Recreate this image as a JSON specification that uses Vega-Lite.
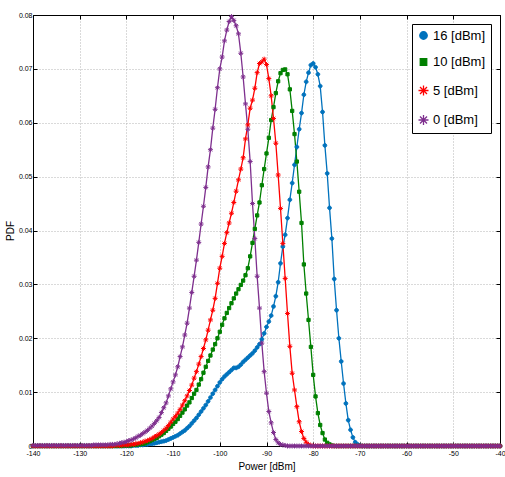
{
"$schema": "https://vega.github.io/schema/vega-lite/v6.json",
"width": 467,
"height": 431,
"autosize": {"type": "none"},
"padding": {"left": 33, "top": 15, "right": 5, "bottom": 31},
"background": "white",
"config": {"view": {"stroke": "black", "strokeWidth": 1}, "font": "Liberation Sans"},
"data": {"values": [
{"s":16,"p":-140,"v":0},{"s":16,"p":-139.5,"v":0},{"s":16,"p":-139,"v":0},{"s":16,"p":-138.5,"v":0},{"s":16,"p":-138,"v":0},{"s":16,"p":-137.5,"v":0},{"s":16,"p":-137,"v":0},{"s":16,"p":-136.5,"v":0},{"s":16,"p":-136,"v":0},{"s":16,"p":-135.5,"v":0},{"s":16,"p":-135,"v":0},{"s":16,"p":-134.5,"v":0},{"s":16,"p":-134,"v":0},{"s":16,"p":-133.5,"v":0},{"s":16,"p":-133,"v":0},{"s":16,"p":-132.5,"v":0},{"s":16,"p":-132,"v":0},{"s":16,"p":-131.5,"v":0},{"s":16,"p":-131,"v":0},{"s":16,"p":-130.5,"v":0},{"s":16,"p":-130,"v":0},{"s":16,"p":-129.5,"v":0},{"s":16,"p":-129,"v":0},{"s":16,"p":-128.5,"v":0},{"s":16,"p":-128,"v":0},{"s":16,"p":-127.5,"v":0},{"s":16,"p":-127,"v":0},{"s":16,"p":-126.5,"v":0},{"s":16,"p":-126,"v":0},{"s":16,"p":-125.5,"v":0},{"s":16,"p":-125,"v":0},{"s":16,"p":-124.5,"v":0},{"s":16,"p":-124,"v":0},{"s":16,"p":-123.5,"v":0},{"s":16,"p":-123,"v":0},{"s":16,"p":-122.5,"v":0},{"s":16,"p":-122,"v":0},{"s":16,"p":-121.5,"v":0},{"s":16,"p":-121,"v":0},{"s":16,"p":-120.5,"v":0},{"s":16,"p":-120,"v":0},{"s":16,"p":-119.5,"v":0},{"s":16,"p":-119,"v":0},
{"s":16,"p":-118.5,"v":0.0001},{"s":16,"p":-118,"v":0.0001},{"s":16,"p":-117.5,"v":0.0001},{"s":16,"p":-117,"v":0.0002},{"s":16,"p":-116.5,"v":0.0002},{"s":16,"p":-116,"v":0.0003},{"s":16,"p":-115.5,"v":0.0003},{"s":16,"p":-115,"v":0.0004},{"s":16,"p":-114.5,"v":0.0004},{"s":16,"p":-114,"v":0.0005},{"s":16,"p":-113.5,"v":0.0006},{"s":16,"p":-113,"v":0.0007},{"s":16,"p":-112.5,"v":0.0008},{"s":16,"p":-112,"v":0.0009},{"s":16,"p":-111.5,"v":0.001},{"s":16,"p":-111,"v":0.0012},{"s":16,"p":-110.5,"v":0.0014},{"s":16,"p":-110,"v":0.0016},{"s":16,"p":-109.5,"v":0.0018},{"s":16,"p":-109,"v":0.002},{"s":16,"p":-108.5,"v":0.0023},{"s":16,"p":-108,"v":0.0026},{"s":16,"p":-107.5,"v":0.0029},{"s":16,"p":-107,"v":0.0033},{"s":16,"p":-106.5,"v":0.0037},{"s":16,"p":-106,"v":0.0042},{"s":16,"p":-105.5,"v":0.0047},{"s":16,"p":-105,"v":0.0052},{"s":16,"p":-104.5,"v":0.0058},{"s":16,"p":-104,"v":0.0064},{"s":16,"p":-103.5,"v":0.007},{"s":16,"p":-103,"v":0.0076},{"s":16,"p":-102.5,"v":0.0083},{"s":16,"p":-102,"v":0.009},{"s":16,"p":-101.5,"v":0.0097},{"s":16,"p":-101,"v":0.0104},{"s":16,"p":-100.5,"v":0.0111},{"s":16,"p":-100,"v":0.0118},{"s":16,"p":-99.5,"v":0.0124},{"s":16,"p":-99,"v":0.0129},{"s":16,"p":-98.5,"v":0.0133},{"s":16,"p":-98,"v":0.0137},{"s":16,"p":-97.5,"v":0.0141},{"s":16,"p":-97,"v":0.0145},{"s":16,"p":-96.5,"v":0.0145},{"s":16,"p":-96,"v":0.0147},{"s":16,"p":-95.5,"v":0.0151},{"s":16,"p":-95,"v":0.0156},{"s":16,"p":-94.5,"v":0.016},{"s":16,"p":-94,"v":0.0164},{"s":16,"p":-93.5,"v":0.0168},{"s":16,"p":-93,"v":0.0172},{"s":16,"p":-92.5,"v":0.0177},{"s":16,"p":-92,"v":0.0183},{"s":16,"p":-91.5,"v":0.0189},{"s":16,"p":-91,"v":0.0198},{"s":16,"p":-90.5,"v":0.0209},{"s":16,"p":-90,"v":0.0221},{"s":16,"p":-89.5,"v":0.0231},{"s":16,"p":-89,"v":0.0242},{"s":16,"p":-88.5,"v":0.0259},{"s":16,"p":-88,"v":0.0278},{"s":16,"p":-87.5,"v":0.0304},{"s":16,"p":-87,"v":0.0339},{"s":16,"p":-86.5,"v":0.037},{"s":16,"p":-86,"v":0.0392},{"s":16,"p":-85.5,"v":0.0423},{"s":16,"p":-85,"v":0.0457},{"s":16,"p":-84.5,"v":0.0488},{"s":16,"p":-84,"v":0.0522},{"s":16,"p":-83.5,"v":0.0555},{"s":16,"p":-83,"v":0.0588},{"s":16,"p":-82.5,"v":0.0618},{"s":16,"p":-82,"v":0.0652},{"s":16,"p":-81.5,"v":0.0676},{"s":16,"p":-81,"v":0.0693},{"s":16,"p":-80.5,"v":0.0707},{"s":16,"p":-80,"v":0.071},{"s":16,"p":-79.5,"v":0.0703},{"s":16,"p":-79,"v":0.069},{"s":16,"p":-78.5,"v":0.0668},{"s":16,"p":-78,"v":0.062},{"s":16,"p":-77.5,"v":0.0558},{"s":16,"p":-77,"v":0.0506},{"s":16,"p":-76.5,"v":0.0442},{"s":16,"p":-76,"v":0.0385},{"s":16,"p":-75.5,"v":0.031},{"s":16,"p":-75,"v":0.0252},{"s":16,"p":-74.5,"v":0.02},{"s":16,"p":-74,"v":0.0157},{"s":16,"p":-73.5,"v":0.0116},{"s":16,"p":-73,"v":0.0079},{"s":16,"p":-72.5,"v":0.0048},{"s":16,"p":-72,"v":0.003},{"s":16,"p":-71.5,"v":0.0016},{"s":16,"p":-71,"v":0.0007},{"s":16,"p":-70.5,"v":0.0003},{"s":16,"p":-70,"v":0.0001},
{"s":16,"p":-69.5,"v":0},{"s":16,"p":-69,"v":0},{"s":16,"p":-68.5,"v":0},{"s":16,"p":-68,"v":0},{"s":16,"p":-67.5,"v":0},{"s":16,"p":-67,"v":0},{"s":16,"p":-66.5,"v":0},{"s":16,"p":-66,"v":0},{"s":16,"p":-65.5,"v":0},{"s":16,"p":-65,"v":0},{"s":16,"p":-64.5,"v":0},{"s":16,"p":-64,"v":0},{"s":16,"p":-63.5,"v":0},{"s":16,"p":-63,"v":0},{"s":16,"p":-62.5,"v":0},{"s":16,"p":-62,"v":0},{"s":16,"p":-61.5,"v":0},{"s":16,"p":-61,"v":0},{"s":16,"p":-60.5,"v":0},{"s":16,"p":-60,"v":0},{"s":16,"p":-59.5,"v":0},{"s":16,"p":-59,"v":0},{"s":16,"p":-58.5,"v":0},{"s":16,"p":-58,"v":0},{"s":16,"p":-57.5,"v":0},{"s":16,"p":-57,"v":0},{"s":16,"p":-56.5,"v":0},{"s":16,"p":-56,"v":0},{"s":16,"p":-55.5,"v":0},{"s":16,"p":-55,"v":0},{"s":16,"p":-54.5,"v":0},{"s":16,"p":-54,"v":0},{"s":16,"p":-53.5,"v":0},{"s":16,"p":-53,"v":0},{"s":16,"p":-52.5,"v":0},{"s":16,"p":-52,"v":0},{"s":16,"p":-51.5,"v":0},{"s":16,"p":-51,"v":0},{"s":16,"p":-50.5,"v":0},{"s":16,"p":-50,"v":0},{"s":16,"p":-49.5,"v":0},{"s":16,"p":-49,"v":0},{"s":16,"p":-48.5,"v":0},{"s":16,"p":-48,"v":0},{"s":16,"p":-47.5,"v":0},{"s":16,"p":-47,"v":0},{"s":16,"p":-46.5,"v":0},{"s":16,"p":-46,"v":0},{"s":16,"p":-45.5,"v":0},{"s":16,"p":-45,"v":0},{"s":16,"p":-44.5,"v":0},{"s":16,"p":-44,"v":0},{"s":16,"p":-43.5,"v":0},{"s":16,"p":-43,"v":0},{"s":16,"p":-42.5,"v":0},{"s":16,"p":-42,"v":0},{"s":16,"p":-41.5,"v":0},{"s":16,"p":-41,"v":0},{"s":16,"p":-40.5,"v":0},{"s":16,"p":-40,"v":0},
{"s":10,"p":-140,"v":0},{"s":10,"p":-139.5,"v":0},{"s":10,"p":-139,"v":0},{"s":10,"p":-138.5,"v":0},{"s":10,"p":-138,"v":0},{"s":10,"p":-137.5,"v":0},{"s":10,"p":-137,"v":0},{"s":10,"p":-136.5,"v":0},{"s":10,"p":-136,"v":0},{"s":10,"p":-135.5,"v":0},{"s":10,"p":-135,"v":0},{"s":10,"p":-134.5,"v":0},{"s":10,"p":-134,"v":0},{"s":10,"p":-133.5,"v":0},{"s":10,"p":-133,"v":0},{"s":10,"p":-132.5,"v":0},{"s":10,"p":-132,"v":0},{"s":10,"p":-131.5,"v":0},{"s":10,"p":-131,"v":0},{"s":10,"p":-130.5,"v":0},{"s":10,"p":-130,"v":0},{"s":10,"p":-129.5,"v":0},{"s":10,"p":-129,"v":0},{"s":10,"p":-128.5,"v":0},{"s":10,"p":-128,"v":0},{"s":10,"p":-127.5,"v":0},{"s":10,"p":-127,"v":0},{"s":10,"p":-126.5,"v":0},{"s":10,"p":-126,"v":0},{"s":10,"p":-125.5,"v":0},{"s":10,"p":-125,"v":0},{"s":10,"p":-124.5,"v":0},{"s":10,"p":-124,"v":0},{"s":10,"p":-123.5,"v":0},{"s":10,"p":-123,"v":0},{"s":10,"p":-122.5,"v":0},{"s":10,"p":-122,"v":0},{"s":10,"p":-121.5,"v":0},{"s":10,"p":-121,"v":0},
{"s":10,"p":-120.5,"v":0.0001},{"s":10,"p":-120,"v":0.0001},{"s":10,"p":-119.5,"v":0.0001},{"s":10,"p":-119,"v":0.0001},{"s":10,"p":-118.5,"v":0.0002},{"s":10,"p":-118,"v":0.0002},{"s":10,"p":-117.5,"v":0.0003},{"s":10,"p":-117,"v":0.0003},{"s":10,"p":-116.5,"v":0.0004},{"s":10,"p":-116,"v":0.0005},{"s":10,"p":-115.5,"v":0.0007},{"s":10,"p":-115,"v":0.0009},{"s":10,"p":-114.5,"v":0.0011},{"s":10,"p":-114,"v":0.0013},{"s":10,"p":-113.5,"v":0.0015},{"s":10,"p":-113,"v":0.0018},{"s":10,"p":-112.5,"v":0.0021},{"s":10,"p":-112,"v":0.0024},{"s":10,"p":-111.5,"v":0.0028},{"s":10,"p":-111,"v":0.0032},{"s":10,"p":-110.5,"v":0.0036},{"s":10,"p":-110,"v":0.0041},{"s":10,"p":-109.5,"v":0.0045},{"s":10,"p":-109,"v":0.005},{"s":10,"p":-108.5,"v":0.0056},{"s":10,"p":-108,"v":0.0062},{"s":10,"p":-107.5,"v":0.0068},{"s":10,"p":-107,"v":0.0075},{"s":10,"p":-106.5,"v":0.0081},{"s":10,"p":-106,"v":0.0089},{"s":10,"p":-105.5,"v":0.0097},{"s":10,"p":-105,"v":0.0104},{"s":10,"p":-104.5,"v":0.0114},{"s":10,"p":-104,"v":0.0124},{"s":10,"p":-103.5,"v":0.0136},{"s":10,"p":-103,"v":0.0147},{"s":10,"p":-102.5,"v":0.0158},{"s":10,"p":-102,"v":0.0168},{"s":10,"p":-101.5,"v":0.0179},{"s":10,"p":-101,"v":0.0189},{"s":10,"p":-100.5,"v":0.02},{"s":10,"p":-100,"v":0.0212},{"s":10,"p":-99.5,"v":0.0225},{"s":10,"p":-99,"v":0.0237},{"s":10,"p":-98.5,"v":0.0247},{"s":10,"p":-98,"v":0.0256},{"s":10,"p":-97.5,"v":0.0265},{"s":10,"p":-97,"v":0.0274},{"s":10,"p":-96.5,"v":0.0283},{"s":10,"p":-96,"v":0.0291},{"s":10,"p":-95.5,"v":0.0299},{"s":10,"p":-95,"v":0.0307},{"s":10,"p":-94.5,"v":0.0317},{"s":10,"p":-94,"v":0.033},{"s":10,"p":-93.5,"v":0.0352},{"s":10,"p":-93,"v":0.0377},{"s":10,"p":-92.5,"v":0.0403},{"s":10,"p":-92,"v":0.0428},{"s":10,"p":-91.5,"v":0.0452},{"s":10,"p":-91,"v":0.0484},{"s":10,"p":-90.5,"v":0.0514},{"s":10,"p":-90,"v":0.0543},{"s":10,"p":-89.5,"v":0.0572},{"s":10,"p":-89,"v":0.0605},{"s":10,"p":-88.5,"v":0.0629},{"s":10,"p":-88,"v":0.0655},{"s":10,"p":-87.5,"v":0.0677},{"s":10,"p":-87,"v":0.0692},{"s":10,"p":-86.5,"v":0.0698},{"s":10,"p":-86,"v":0.0699},{"s":10,"p":-85.5,"v":0.069},{"s":10,"p":-85,"v":0.0662},{"s":10,"p":-84.5,"v":0.0622},{"s":10,"p":-84,"v":0.0579},{"s":10,"p":-83.5,"v":0.0528},{"s":10,"p":-83,"v":0.0472},{"s":10,"p":-82.5,"v":0.0414},{"s":10,"p":-82,"v":0.0337},{"s":10,"p":-81.5,"v":0.0283},{"s":10,"p":-81,"v":0.0234},{"s":10,"p":-80.5,"v":0.0184},{"s":10,"p":-80,"v":0.0132},{"s":10,"p":-79.5,"v":0.0092},{"s":10,"p":-79,"v":0.0061},{"s":10,"p":-78.5,"v":0.0039},{"s":10,"p":-78,"v":0.0024},{"s":10,"p":-77.5,"v":0.0012},{"s":10,"p":-77,"v":0.0006},{"s":10,"p":-76.5,"v":0.0003},{"s":10,"p":-76,"v":0.0001},
{"s":10,"p":-75.5,"v":0},{"s":10,"p":-75,"v":0},{"s":10,"p":-74.5,"v":0},{"s":10,"p":-74,"v":0},{"s":10,"p":-73.5,"v":0},{"s":10,"p":-73,"v":0},{"s":10,"p":-72.5,"v":0},{"s":10,"p":-72,"v":0},{"s":10,"p":-71.5,"v":0},{"s":10,"p":-71,"v":0},{"s":10,"p":-70.5,"v":0},{"s":10,"p":-70,"v":0},{"s":10,"p":-69.5,"v":0},{"s":10,"p":-69,"v":0},{"s":10,"p":-68.5,"v":0},{"s":10,"p":-68,"v":0},{"s":10,"p":-67.5,"v":0},{"s":10,"p":-67,"v":0},{"s":10,"p":-66.5,"v":0},{"s":10,"p":-66,"v":0},{"s":10,"p":-65.5,"v":0},{"s":10,"p":-65,"v":0},{"s":10,"p":-64.5,"v":0},{"s":10,"p":-64,"v":0},{"s":10,"p":-63.5,"v":0},{"s":10,"p":-63,"v":0},{"s":10,"p":-62.5,"v":0},{"s":10,"p":-62,"v":0},{"s":10,"p":-61.5,"v":0},{"s":10,"p":-61,"v":0},{"s":10,"p":-60.5,"v":0},{"s":10,"p":-60,"v":0},{"s":10,"p":-59.5,"v":0},{"s":10,"p":-59,"v":0},{"s":10,"p":-58.5,"v":0},{"s":10,"p":-58,"v":0},{"s":10,"p":-57.5,"v":0},{"s":10,"p":-57,"v":0},{"s":10,"p":-56.5,"v":0},{"s":10,"p":-56,"v":0},{"s":10,"p":-55.5,"v":0},{"s":10,"p":-55,"v":0},{"s":10,"p":-54.5,"v":0},{"s":10,"p":-54,"v":0},{"s":10,"p":-53.5,"v":0},{"s":10,"p":-53,"v":0},{"s":10,"p":-52.5,"v":0},{"s":10,"p":-52,"v":0},{"s":10,"p":-51.5,"v":0},{"s":10,"p":-51,"v":0},{"s":10,"p":-50.5,"v":0},{"s":10,"p":-50,"v":0},{"s":10,"p":-49.5,"v":0},{"s":10,"p":-49,"v":0},{"s":10,"p":-48.5,"v":0},{"s":10,"p":-48,"v":0},{"s":10,"p":-47.5,"v":0},{"s":10,"p":-47,"v":0},{"s":10,"p":-46.5,"v":0},{"s":10,"p":-46,"v":0},{"s":10,"p":-45.5,"v":0},{"s":10,"p":-45,"v":0},{"s":10,"p":-44.5,"v":0},{"s":10,"p":-44,"v":0},{"s":10,"p":-43.5,"v":0},{"s":10,"p":-43,"v":0},{"s":10,"p":-42.5,"v":0},{"s":10,"p":-42,"v":0},{"s":10,"p":-41.5,"v":0},{"s":10,"p":-41,"v":0},{"s":10,"p":-40.5,"v":0},{"s":10,"p":-40,"v":0},
{"s":5,"p":-140,"v":0},{"s":5,"p":-139.5,"v":0},{"s":5,"p":-139,"v":0},{"s":5,"p":-138.5,"v":0},{"s":5,"p":-138,"v":0},{"s":5,"p":-137.5,"v":0},{"s":5,"p":-137,"v":0},{"s":5,"p":-136.5,"v":0},{"s":5,"p":-136,"v":0},{"s":5,"p":-135.5,"v":0},{"s":5,"p":-135,"v":0},{"s":5,"p":-134.5,"v":0},{"s":5,"p":-134,"v":0},{"s":5,"p":-133.5,"v":0},{"s":5,"p":-133,"v":0},{"s":5,"p":-132.5,"v":0},{"s":5,"p":-132,"v":0},{"s":5,"p":-131.5,"v":0},{"s":5,"p":-131,"v":0},{"s":5,"p":-130.5,"v":0},{"s":5,"p":-130,"v":0},{"s":5,"p":-129.5,"v":0},{"s":5,"p":-129,"v":0},{"s":5,"p":-128.5,"v":0},{"s":5,"p":-128,"v":0},{"s":5,"p":-127.5,"v":0},{"s":5,"p":-127,"v":0},{"s":5,"p":-126.5,"v":0},{"s":5,"p":-126,"v":0},{"s":5,"p":-125.5,"v":0},{"s":5,"p":-125,"v":0},{"s":5,"p":-124.5,"v":0},{"s":5,"p":-124,"v":0},{"s":5,"p":-123.5,"v":0},{"s":5,"p":-123,"v":0},
{"s":5,"p":-122.5,"v":0.0001},{"s":5,"p":-122,"v":0.0001},{"s":5,"p":-121.5,"v":0.0001},{"s":5,"p":-121,"v":0.0001},{"s":5,"p":-120.5,"v":0.0002},{"s":5,"p":-120,"v":0.0002},{"s":5,"p":-119.5,"v":0.0002},{"s":5,"p":-119,"v":0.0003},{"s":5,"p":-118.5,"v":0.0003},{"s":5,"p":-118,"v":0.0004},{"s":5,"p":-117.5,"v":0.0005},{"s":5,"p":-117,"v":0.0006},{"s":5,"p":-116.5,"v":0.0007},{"s":5,"p":-116,"v":0.0009},{"s":5,"p":-115.5,"v":0.001},{"s":5,"p":-115,"v":0.0012},{"s":5,"p":-114.5,"v":0.0014},{"s":5,"p":-114,"v":0.0017},{"s":5,"p":-113.5,"v":0.0019},{"s":5,"p":-113,"v":0.0022},{"s":5,"p":-112.5,"v":0.0025},{"s":5,"p":-112,"v":0.0029},{"s":5,"p":-111.5,"v":0.0033},{"s":5,"p":-111,"v":0.0038},{"s":5,"p":-110.5,"v":0.0044},{"s":5,"p":-110,"v":0.005},{"s":5,"p":-109.5,"v":0.0055},{"s":5,"p":-109,"v":0.0061},{"s":5,"p":-108.5,"v":0.0068},{"s":5,"p":-108,"v":0.0076},{"s":5,"p":-107.5,"v":0.0084},{"s":5,"p":-107,"v":0.0093},{"s":5,"p":-106.5,"v":0.0103},{"s":5,"p":-106,"v":0.0113},{"s":5,"p":-105.5,"v":0.0126},{"s":5,"p":-105,"v":0.0138},{"s":5,"p":-104.5,"v":0.0152},{"s":5,"p":-104,"v":0.0166},{"s":5,"p":-103.5,"v":0.0181},{"s":5,"p":-103,"v":0.0197},{"s":5,"p":-102.5,"v":0.0215},{"s":5,"p":-102,"v":0.0234},{"s":5,"p":-101.5,"v":0.0252},{"s":5,"p":-101,"v":0.0274},{"s":5,"p":-100.5,"v":0.0302},{"s":5,"p":-100,"v":0.033},{"s":5,"p":-99.5,"v":0.0352},{"s":5,"p":-99,"v":0.0376},{"s":5,"p":-98.5,"v":0.0396},{"s":5,"p":-98,"v":0.0414},{"s":5,"p":-97.5,"v":0.0432},{"s":5,"p":-97,"v":0.0452},{"s":5,"p":-96.5,"v":0.0473},{"s":5,"p":-96,"v":0.0494},{"s":5,"p":-95.5,"v":0.0514},{"s":5,"p":-95,"v":0.0535},{"s":5,"p":-94.5,"v":0.057},{"s":5,"p":-94,"v":0.0596},{"s":5,"p":-93.5,"v":0.0627},{"s":5,"p":-93,"v":0.0642},{"s":5,"p":-92.5,"v":0.0664},{"s":5,"p":-92,"v":0.0693},{"s":5,"p":-91.5,"v":0.071},{"s":5,"p":-91,"v":0.0713},{"s":5,"p":-90.5,"v":0.0718},{"s":5,"p":-90,"v":0.0708},{"s":5,"p":-89.5,"v":0.0682},{"s":5,"p":-89,"v":0.065},{"s":5,"p":-88.5,"v":0.0608},{"s":5,"p":-88,"v":0.0562},{"s":5,"p":-87.5,"v":0.0503},{"s":5,"p":-87,"v":0.0441},{"s":5,"p":-86.5,"v":0.0376},{"s":5,"p":-86,"v":0.0311},{"s":5,"p":-85.5,"v":0.0246},{"s":5,"p":-85,"v":0.0185},{"s":5,"p":-84.5,"v":0.0135},{"s":5,"p":-84,"v":0.0104},{"s":5,"p":-83.5,"v":0.0073},{"s":5,"p":-83,"v":0.0045},{"s":5,"p":-82.5,"v":0.0027},{"s":5,"p":-82,"v":0.0014},{"s":5,"p":-81.5,"v":0.0007},{"s":5,"p":-81,"v":0.0003},{"s":5,"p":-80.5,"v":0.0001},
{"s":5,"p":-80,"v":0},{"s":5,"p":-79.5,"v":0},{"s":5,"p":-79,"v":0},{"s":5,"p":-78.5,"v":0},{"s":5,"p":-78,"v":0},{"s":5,"p":-77.5,"v":0},{"s":5,"p":-77,"v":0},{"s":5,"p":-76.5,"v":0},{"s":5,"p":-76,"v":0},{"s":5,"p":-75.5,"v":0},{"s":5,"p":-75,"v":0},{"s":5,"p":-74.5,"v":0},{"s":5,"p":-74,"v":0},{"s":5,"p":-73.5,"v":0},{"s":5,"p":-73,"v":0},{"s":5,"p":-72.5,"v":0},{"s":5,"p":-72,"v":0},{"s":5,"p":-71.5,"v":0},{"s":5,"p":-71,"v":0},{"s":5,"p":-70.5,"v":0},{"s":5,"p":-70,"v":0},{"s":5,"p":-69.5,"v":0},{"s":5,"p":-69,"v":0},{"s":5,"p":-68.5,"v":0},{"s":5,"p":-68,"v":0},{"s":5,"p":-67.5,"v":0},{"s":5,"p":-67,"v":0},{"s":5,"p":-66.5,"v":0},{"s":5,"p":-66,"v":0},{"s":5,"p":-65.5,"v":0},{"s":5,"p":-65,"v":0},{"s":5,"p":-64.5,"v":0},{"s":5,"p":-64,"v":0},{"s":5,"p":-63.5,"v":0},{"s":5,"p":-63,"v":0},{"s":5,"p":-62.5,"v":0},{"s":5,"p":-62,"v":0},{"s":5,"p":-61.5,"v":0},{"s":5,"p":-61,"v":0},{"s":5,"p":-60.5,"v":0},{"s":5,"p":-60,"v":0},{"s":5,"p":-59.5,"v":0},{"s":5,"p":-59,"v":0},{"s":5,"p":-58.5,"v":0},{"s":5,"p":-58,"v":0},{"s":5,"p":-57.5,"v":0},{"s":5,"p":-57,"v":0},{"s":5,"p":-56.5,"v":0},{"s":5,"p":-56,"v":0},{"s":5,"p":-55.5,"v":0},{"s":5,"p":-55,"v":0},{"s":5,"p":-54.5,"v":0},{"s":5,"p":-54,"v":0},{"s":5,"p":-53.5,"v":0},{"s":5,"p":-53,"v":0},{"s":5,"p":-52.5,"v":0},{"s":5,"p":-52,"v":0},{"s":5,"p":-51.5,"v":0},{"s":5,"p":-51,"v":0},{"s":5,"p":-50.5,"v":0},{"s":5,"p":-50,"v":0},{"s":5,"p":-49.5,"v":0},{"s":5,"p":-49,"v":0},{"s":5,"p":-48.5,"v":0},{"s":5,"p":-48,"v":0},{"s":5,"p":-47.5,"v":0},{"s":5,"p":-47,"v":0},{"s":5,"p":-46.5,"v":0},{"s":5,"p":-46,"v":0},{"s":5,"p":-45.5,"v":0},{"s":5,"p":-45,"v":0},{"s":5,"p":-44.5,"v":0},{"s":5,"p":-44,"v":0},{"s":5,"p":-43.5,"v":0},{"s":5,"p":-43,"v":0},{"s":5,"p":-42.5,"v":0},{"s":5,"p":-42,"v":0},{"s":5,"p":-41.5,"v":0},{"s":5,"p":-41,"v":0},{"s":5,"p":-40.5,"v":0},{"s":5,"p":-40,"v":0},
{"s":0,"p":-140,"v":0.0001},{"s":0,"p":-139.5,"v":0.0001},{"s":0,"p":-139,"v":0.0001},{"s":0,"p":-138.5,"v":0.0001},{"s":0,"p":-138,"v":0.0001},{"s":0,"p":-137.5,"v":0.0001},{"s":0,"p":-137,"v":0.0001},{"s":0,"p":-136.5,"v":0.0001},{"s":0,"p":-136,"v":0.0001},{"s":0,"p":-135.5,"v":0.0001},{"s":0,"p":-135,"v":0.0001},{"s":0,"p":-134.5,"v":0.0001},{"s":0,"p":-134,"v":0.0001},{"s":0,"p":-133.5,"v":0.0001},{"s":0,"p":-133,"v":0.0001},{"s":0,"p":-132.5,"v":0.0001},{"s":0,"p":-132,"v":0.0001},{"s":0,"p":-131.5,"v":0.0001},{"s":0,"p":-131,"v":0.0001},{"s":0,"p":-130.5,"v":0.0001},{"s":0,"p":-130,"v":0.0001},{"s":0,"p":-129.5,"v":0.0001},{"s":0,"p":-129,"v":0.0001},{"s":0,"p":-128.5,"v":0.0001},{"s":0,"p":-128,"v":0.0001},{"s":0,"p":-127.5,"v":0.0001},{"s":0,"p":-127,"v":0.0002},{"s":0,"p":-126.5,"v":0.0002},{"s":0,"p":-126,"v":0.0002},{"s":0,"p":-125.5,"v":0.0002},{"s":0,"p":-125,"v":0.0002},{"s":0,"p":-124.5,"v":0.0002},{"s":0,"p":-124,"v":0.0002},{"s":0,"p":-123.5,"v":0.0003},{"s":0,"p":-123,"v":0.0003},{"s":0,"p":-122.5,"v":0.0003},{"s":0,"p":-122,"v":0.0004},{"s":0,"p":-121.5,"v":0.0005},{"s":0,"p":-121,"v":0.0006},{"s":0,"p":-120.5,"v":0.0007},{"s":0,"p":-120,"v":0.0008},{"s":0,"p":-119.5,"v":0.001},{"s":0,"p":-119,"v":0.0011},{"s":0,"p":-118.5,"v":0.0013},{"s":0,"p":-118,"v":0.0015},{"s":0,"p":-117.5,"v":0.0018},{"s":0,"p":-117,"v":0.002},{"s":0,"p":-116.5,"v":0.0023},{"s":0,"p":-116,"v":0.0026},{"s":0,"p":-115.5,"v":0.0029},{"s":0,"p":-115,"v":0.0033},{"s":0,"p":-114.5,"v":0.0037},{"s":0,"p":-114,"v":0.0042},{"s":0,"p":-113.5,"v":0.0047},{"s":0,"p":-113,"v":0.0053},{"s":0,"p":-112.5,"v":0.0062},{"s":0,"p":-112,"v":0.0071},{"s":0,"p":-111.5,"v":0.008},{"s":0,"p":-111,"v":0.0093},{"s":0,"p":-110.5,"v":0.0106},{"s":0,"p":-110,"v":0.0119},{"s":0,"p":-109.5,"v":0.0132},{"s":0,"p":-109,"v":0.0147},{"s":0,"p":-108.5,"v":0.0166},{"s":0,"p":-108,"v":0.0184},{"s":0,"p":-107.5,"v":0.0206},{"s":0,"p":-107,"v":0.0228},{"s":0,"p":-106.5,"v":0.0256},{"s":0,"p":-106,"v":0.0285},{"s":0,"p":-105.5,"v":0.0315},{"s":0,"p":-105,"v":0.0345},{"s":0,"p":-104.5,"v":0.0378},{"s":0,"p":-104,"v":0.0412},{"s":0,"p":-103.5,"v":0.0445},{"s":0,"p":-103,"v":0.048},{"s":0,"p":-102.5,"v":0.0518},{"s":0,"p":-102,"v":0.055},{"s":0,"p":-101.5,"v":0.059},{"s":0,"p":-101,"v":0.0625},{"s":0,"p":-100.5,"v":0.0665},{"s":0,"p":-100,"v":0.07},{"s":0,"p":-99.5,"v":0.0722},{"s":0,"p":-99,"v":0.0752},{"s":0,"p":-98.5,"v":0.0772},{"s":0,"p":-98,"v":0.0788},{"s":0,"p":-97.5,"v":0.0797},{"s":0,"p":-97,"v":0.079},{"s":0,"p":-96.5,"v":0.078},{"s":0,"p":-96,"v":0.0765},{"s":0,"p":-95.5,"v":0.0729},{"s":0,"p":-95,"v":0.0685},{"s":0,"p":-94.5,"v":0.0635},{"s":0,"p":-94,"v":0.0588},{"s":0,"p":-93.5,"v":0.0528},{"s":0,"p":-93,"v":0.045},{"s":0,"p":-92.5,"v":0.0385},{"s":0,"p":-92,"v":0.0315},{"s":0,"p":-91.5,"v":0.0256},{"s":0,"p":-91,"v":0.0191},{"s":0,"p":-90.5,"v":0.0138},{"s":0,"p":-90,"v":0.0098},{"s":0,"p":-89.5,"v":0.0064},{"s":0,"p":-89,"v":0.0043},{"s":0,"p":-88.5,"v":0.0025},{"s":0,"p":-88,"v":0.0012},{"s":0,"p":-87.5,"v":0.0006},{"s":0,"p":-87,"v":0.0003},{"s":0,"p":-86.5,"v":0.0002},{"s":0,"p":-86,"v":0.0001},
{"s":0,"p":-85.5,"v":0},{"s":0,"p":-85,"v":0},{"s":0,"p":-84.5,"v":0},{"s":0,"p":-84,"v":0},{"s":0,"p":-83.5,"v":0},{"s":0,"p":-83,"v":0},{"s":0,"p":-82.5,"v":0},{"s":0,"p":-82,"v":0},{"s":0,"p":-81.5,"v":0},{"s":0,"p":-81,"v":0},{"s":0,"p":-80.5,"v":0},{"s":0,"p":-80,"v":0},{"s":0,"p":-79.5,"v":0},{"s":0,"p":-79,"v":0},{"s":0,"p":-78.5,"v":0},{"s":0,"p":-78,"v":0},{"s":0,"p":-77.5,"v":0},{"s":0,"p":-77,"v":0},{"s":0,"p":-76.5,"v":0},{"s":0,"p":-76,"v":0},{"s":0,"p":-75.5,"v":0},{"s":0,"p":-75,"v":0},{"s":0,"p":-74.5,"v":0},{"s":0,"p":-74,"v":0},{"s":0,"p":-73.5,"v":0},{"s":0,"p":-73,"v":0},{"s":0,"p":-72.5,"v":0},{"s":0,"p":-72,"v":0},{"s":0,"p":-71.5,"v":0},{"s":0,"p":-71,"v":0},{"s":0,"p":-70.5,"v":0},{"s":0,"p":-70,"v":0},{"s":0,"p":-69.5,"v":0},{"s":0,"p":-69,"v":0},{"s":0,"p":-68.5,"v":0},{"s":0,"p":-68,"v":0},{"s":0,"p":-67.5,"v":0},{"s":0,"p":-67,"v":0},{"s":0,"p":-66.5,"v":0},{"s":0,"p":-66,"v":0},{"s":0,"p":-65.5,"v":0},{"s":0,"p":-65,"v":0},{"s":0,"p":-64.5,"v":0},{"s":0,"p":-64,"v":0},{"s":0,"p":-63.5,"v":0},{"s":0,"p":-63,"v":0},{"s":0,"p":-62.5,"v":0},{"s":0,"p":-62,"v":0},{"s":0,"p":-61.5,"v":0},{"s":0,"p":-61,"v":0},{"s":0,"p":-60.5,"v":0},{"s":0,"p":-60,"v":0},{"s":0,"p":-59.5,"v":0},{"s":0,"p":-59,"v":0},{"s":0,"p":-58.5,"v":0},{"s":0,"p":-58,"v":0},{"s":0,"p":-57.5,"v":0},{"s":0,"p":-57,"v":0},{"s":0,"p":-56.5,"v":0},{"s":0,"p":-56,"v":0},{"s":0,"p":-55.5,"v":0},{"s":0,"p":-55,"v":0},{"s":0,"p":-54.5,"v":0},{"s":0,"p":-54,"v":0},{"s":0,"p":-53.5,"v":0},{"s":0,"p":-53,"v":0},{"s":0,"p":-52.5,"v":0},{"s":0,"p":-52,"v":0},{"s":0,"p":-51.5,"v":0},{"s":0,"p":-51,"v":0},{"s":0,"p":-50.5,"v":0},{"s":0,"p":-50,"v":0},{"s":0,"p":-49.5,"v":0},{"s":0,"p":-49,"v":0},{"s":0,"p":-48.5,"v":0},{"s":0,"p":-48,"v":0},{"s":0,"p":-47.5,"v":0},{"s":0,"p":-47,"v":0},{"s":0,"p":-46.5,"v":0},{"s":0,"p":-46,"v":0},{"s":0,"p":-45.5,"v":0},{"s":0,"p":-45,"v":0},{"s":0,"p":-44.5,"v":0},{"s":0,"p":-44,"v":0},{"s":0,"p":-43.5,"v":0},{"s":0,"p":-43,"v":0},{"s":0,"p":-42.5,"v":0},{"s":0,"p":-42,"v":0},{"s":0,"p":-41.5,"v":0},{"s":0,"p":-41,"v":0},{"s":0,"p":-40.5,"v":0},{"s":0,"p":-40,"v":0}
]},
"resolve": {"axis": {"x": "independent", "y": "independent"}},
"layer": [
{
"mark": {"type": "line", "strokeWidth": 1.3},
"encoding": {
"x": {"field": "p", "type": "quantitative", "scale": {"domain": [-140, -40], "nice": false, "zero": false},
"axis": {"orient": "bottom", "values": [-140,-130,-120,-110,-100,-90,-80,-70,-60,-50,-40], "labelExpr": "datum.value + ''", "title": "Power [dBm]", "grid": true, "gridDash": [1, 2], "gridColor": "#b4b4b4", "gridWidth": 1, "gridOpacity": 1, "tickSize": -4, "tickColor": "black", "domainColor": "black", "labelFont": "Liberation Sans", "labelFontSize": 7, "labelColor": "black", "labelPadding": 7, "labelFlush": false, "titleFont": "Liberation Sans", "titleFontSize": 10, "titleFontWeight": "normal", "titleColor": "black", "titlePadding": 5}},
"y": {"field": "v", "type": "quantitative", "scale": {"domain": [0, 0.08], "nice": false},
"axis": {"orient": "left", "values": [0,0.01,0.02,0.03,0.04,0.05,0.06,0.07,0.08], "labelExpr": "datum.value == 0 ? '0' : format(datum.value, '.2f')", "title": "PDF", "grid": true, "gridDash": [1, 2], "gridColor": "#b4b4b4", "gridWidth": 1, "gridOpacity": 1, "tickSize": -4, "tickColor": "black", "domainColor": "black", "labelFont": "Liberation Sans", "labelFontSize": 7, "labelColor": "black", "labelPadding": 5, "labelFlush": false, "titleFont": "Liberation Sans", "titleFontSize": 10, "titleFontWeight": "normal", "titleColor": "black", "titlePadding": 3}},
"color": {"field": "s", "type": "nominal", "title": "S", "scale": {"domain": [16, 10, 5, 0], "range": ["#0072BD", "#008000", "#FF0000", "#7E2F8E"]}}
}
},
{
"mark": {"type": "point", "opacity": 1, "strokeWidth": 1, "size": 25},
"encoding": {
"x": {"field": "p", "type": "quantitative", "axis": {"orient": "top", "values": [-140,-130,-120,-110,-100,-90,-80,-70,-60,-50,-40], "labels": false, "title": null, "grid": false, "tickSize": -4, "tickColor": "black", "domainColor": "black"}},
"y": {"field": "v", "type": "quantitative", "axis": {"orient": "right", "values": [0,0.01,0.02,0.03,0.04,0.05,0.06,0.07,0.08], "labels": false, "title": null, "grid": false, "tickSize": -4, "tickColor": "black", "domainColor": "black"}},
"stroke": {"field": "s", "type": "nominal", "title": "S", "scale": {"domain": [16, 10, 5, 0], "range": ["#0072BD", "#008000", "#FF0000", "#7E2F8E"]}},
"fill": {"field": "s", "type": "nominal", "title": "S", "scale": {"domain": [16, 10, 5, 0], "range": ["#0072BD", "#008000", "#FF0000", "#7E2F8E"]}},
"shape": {"field": "s", "type": "nominal", "title": "S", "scale": {"domain": [16, 10, 5, 0], "range": ["M-0.75,0A0.75,0.75,0,1,1,0.75,0A0.75,0.75,0,1,1,-0.75,0Z", "M-0.65,-0.65L0.65,-0.65L0.65,0.65L-0.65,0.65Z", "M-1,0L1,0M0,-1L0,1M-0.7,-0.7L0.7,0.7M-0.7,0.7L0.7,-0.7", "M-1,0L1,0M0,-1L0,1M-0.7,-0.7L0.7,0.7M-0.7,0.7L0.7,-0.7"]},
"legend": {"orient": "none", "legendX": 379, "legendY": 9, "title": null, "strokeColor": "black", "fillColor": "white", "padding": 5, "rowPadding": 12.5, "labelFont": "Liberation Sans", "labelFontSize": 13, "labelColor": "black", "labelOffset": 3, "symbolSize": 100, "symbolStrokeWidth": 1.3, "labelExpr": "datum.label + ' [dBm]'"}}
}
}
]
}
